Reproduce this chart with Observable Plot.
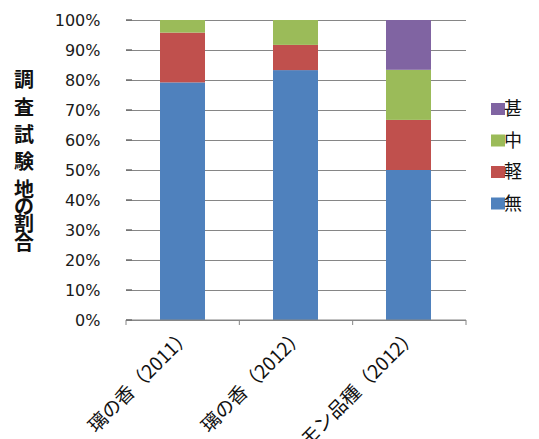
<!DOCTYPE html>
<html>
<head>
<meta charset="utf-8">
<script src="https://cdn.jsdelivr.net/npm/d3@7"></script>
<script src="https://cdn.jsdelivr.net/npm/@observablehq/plot@0.6"></script>
<style>
  html, body { margin: 0; padding: 0; background: #fff; }
  #chart svg { display: block; }
</style>
</head>
<body>
<div id="chart"></div>
<script>
// Share of surveyed plots by damage level, per variety / year
const categories = ["璃の香（2011）", "璃の香（2012）", "レモン品種（2012）"];
const levels = ["無", "軽", "中", "甚"];
const colors = ["#4F81BD", "#C0504D", "#9BBB59", "#8064A2"];
const none   = [79.2, 83.3, 50.0];   // 無
const light  = [16.6, 8.4, 16.7];    // 軽
const medium = [4.2, 8.3, 16.7];     // 中
const severe = [0, 0, 16.6];         // 甚
const yTicks = [0, 10, 20, 30, 40, 50, 60, 70, 80, 90, 100];
const titleChars = ["調", "査", "試", "験", "地", "の", "割", "合"];
const titleY = [79, 107, 134, 161, 189, 206.5, 223.5, 242.5];

const series = [none, light, medium, severe];
const rows = [];
categories.forEach((c, i) => {
  levels.forEach((lv, j) => rows.push({category: c, level: lv, value: series[j][i]}));
});

const W = 539, H = 439;
const chart = Plot.plot({
  width: W,
  height: H,
  marginLeft: 126,
  marginRight: 73,
  marginTop: 20,
  marginBottom: 119,
  style: {fontFamily: "'DejaVu Sans', sans-serif", background: "#fff"},
  x: {domain: categories, paddingInner: 0.6, paddingOuter: 0.3, axis: null},
  y: {domain: [0, 100], axis: null},
  color: {domain: levels, range: colors},
  marks: [
    Plot.ruleY(yTicks, {stroke: "#868686", strokeWidth: 1}),
    Plot.ruleX([0], {frameAnchor: "left", stroke: "#868686"}),
    Plot.barY(rows, Plot.stackY({x: "category", y: "value", fill: "level", order: levels})),
    Plot.axisY({
      ticks: yTicks,
      tickFormat: d => d + "%",
      tickSize: 0,
      tickPadding: 26,
      fontSize: 16,
      fill: "#1a1a1a",
      label: null
    }),
    Plot.text(categories, {
      x: d => d,
      frameAnchor: "bottom",
      dy: 16,
      dx: 10,
      rotate: -45,
      textAnchor: "end",
      fontSize: 19,
      fontFamily: "'Noto Sans CJK JP', sans-serif",
      fill: "#111"
    })
  ]
});

const svg = d3.select(chart);
const ys = chart.scale("y");
const x0 = 126, x1 = W - 73, yBase = ys.apply(0);

// x axis line and tick marks at the band boundaries
svg.append("line").attr("x1", x0).attr("x2", x1).attr("y1", yBase).attr("y2", yBase)
  .attr("stroke", "#868686");
for (let k = 0; k <= categories.length; k++) {
  const xp = x0 + k * (x1 - x0) / categories.length;
  svg.append("line").attr("x1", xp).attr("x2", xp).attr("y1", yBase).attr("y2", yBase + 5)
    .attr("stroke", "#868686");
}
// short inward ticks on the y axis
yTicks.forEach(t => {
  const yp = ys.apply(t);
  svg.append("line").attr("x1", x0).attr("x2", x0 + 6).attr("y1", yp).attr("y2", yp)
    .attr("stroke", "#6f6f6f").attr("stroke-width", 1.5);
});

// vertical axis title, one character per row
const title = svg.append("g")
  .attr("font-family", "'Noto Sans CJK JP', sans-serif")
  .attr("font-size", 20)
  .attr("font-weight", "bold")
  .attr("fill", "#111")
  .attr("text-anchor", "middle");
titleChars.forEach((ch, i) => {
  title.append("text").attr("x", 24).attr("y", titleY[i]).attr("dy", "0.38em").text(ch);
});

// legend, top level first
const legend = svg.append("g")
  .attr("font-family", "'Noto Sans CJK JP', sans-serif")
  .attr("font-size", 18)
  .attr("fill", "#111");
const legendOrder = levels.slice().reverse();
legendOrder.forEach((lv, i) => {
  const cy = 109 + i * 31.5;
  const c = colors[levels.indexOf(lv)];
  legend.append("rect").attr("x", 491).attr("y", cy - 6).attr("width", 14).attr("height", 12).attr("fill", c);
  legend.append("text").attr("x", 513).attr("y", cy).attr("dy", "0.36em").text(lv);
});

document.getElementById("chart").appendChild(chart);
</script>
</body>
</html>
